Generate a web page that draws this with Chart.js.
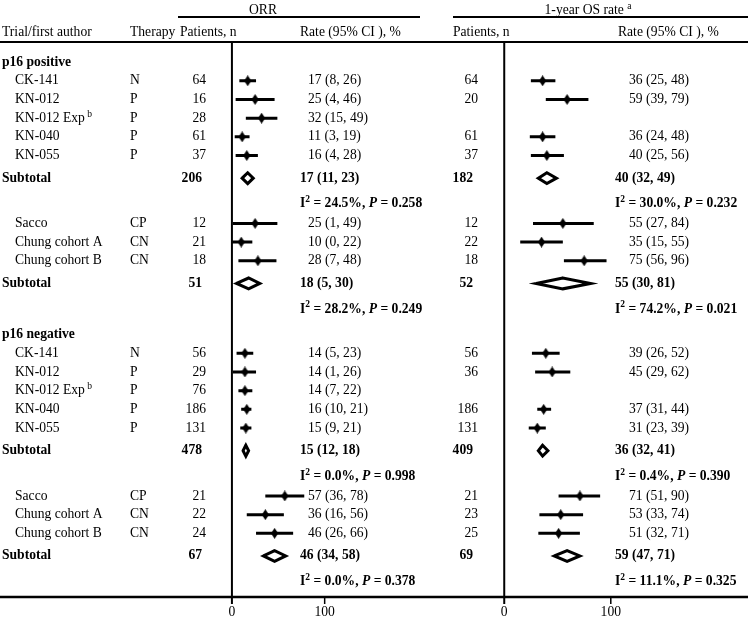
<!DOCTYPE html>
<html>
<head>
<meta charset="utf-8">
<script src="https://cdn.jsdelivr.net/npm/chart.js@4.4.1/dist/chart.umd.min.js"></script>
<style>
  body { margin: 0; background: #fff; }
  #wrap { position: relative; width: 748px; height: 620px; }
</style>
</head>
<body>
<div id="wrap"><canvas id="forest" width="748" height="620"></canvas></div>
<script>
// ---- data ----
const groupNames = ["p16 positive", "p16 negative"];
const trials = ["CK-141", "KN-012", "KN-012 Exp", "KN-040", "KN-055", "Sacco", "Chung cohort A", "Chung cohort B"];
const trialNote = ["", "", "b", "", "", "", "", ""];
const therapy = ["N", "P", "P", "P", "P", "CP", "CN", "CN"];
const subgroup = [0, 0, 0, 0, 0, 1, 1, 1];

// p16 positive
const posOrrN = [64, 16, 28, 61, 37, 12, 21, 18];
const posOrrRate = [17, 25, 32, 11, 16, 25, 10, 28];
const posOrrLo = [8, 4, 15, 3, 4, 1, 0, 7];
const posOrrHi = [26, 46, 49, 19, 28, 49, 22, 48];
const posOsN = [64, 20, null, 61, 37, 12, 22, 18];
const posOsRate = [36, 59, null, 36, 40, 55, 35, 75];
const posOsLo = [25, 39, null, 24, 25, 27, 15, 56];
const posOsHi = [48, 79, null, 48, 56, 84, 55, 96];

// p16 negative
const negOrrN = [56, 29, 76, 186, 131, 21, 22, 24];
const negOrrRate = [14, 14, 14, 16, 15, 57, 36, 46];
const negOrrLo = [5, 1, 7, 10, 9, 36, 16, 26];
const negOrrHi = [23, 26, 22, 21, 21, 78, 56, 66];
const negOsN = [56, 36, null, 186, 131, 21, 23, 25];
const negOsRate = [39, 45, null, 37, 31, 71, 53, 51];
const negOsLo = [26, 29, null, 31, 23, 51, 33, 32];
const negOsHi = [52, 62, null, 44, 39, 90, 74, 71];

// subtotals: pos mono, pos combo, neg mono, neg combo
const subOrrN = [206, 51, 478, 67];
const subOrrRate = [17, 18, 15, 46];
const subOrrLo = [11, 5, 12, 34];
const subOrrHi = [23, 30, 18, 58];
const subOrrI2 = ["24.5", "28.2", "0.0", "0.0"];
const subOrrP = ["0.258", "0.249", "0.998", "0.378"];
const subOsN = [182, 52, 409, 69];
const subOsRate = [40, 55, 36, 59];
const subOsLo = [32, 30, 32, 47];
const subOsHi = [49, 81, 41, 71];
const subOsI2 = ["30.0", "74.2", "0.4", "11.1"];
const subOsP = ["0.232", "0.021", "0.390", "0.325"];

const axisTicks = [0, 100];

// ---- layout of rows ----
const groups = [
  { orrN: posOrrN, orrRate: posOrrRate, orrLo: posOrrLo, orrHi: posOrrHi, osN: posOsN, osRate: posOsRate, osLo: posOsLo, osHi: posOsHi },
  { orrN: negOrrN, orrRate: negOrrRate, orrLo: negOrrLo, orrHi: negOrrHi, osN: negOsN, osRate: negOsRate, osLo: negOsLo, osHi: negOsHi }
];
const gaps = { "group>study": 19, "study>study": 19, "study>subtotal": 23, "subtotal>het": 26, "het>study": 20, "het>group": 26 };
const rows = [];
let curY = 58, prevType = null;
function addRow(r) {
  if (prevType) curY += gaps[prevType + ">" + r.type];
  r.y = curY;
  prevType = r.type;
  rows.push(r);
}
groups.forEach((g, gi) => {
  addRow({ type: "group", label: groupNames[gi] });
  [0, 1].forEach(sg => {
    trials.forEach((t, i) => {
      if (subgroup[i] !== sg) return;
      addRow({ type: "study", name: t, note: trialNote[i], therapy: therapy[i],
        orrN: g.orrN[i], orrRate: g.orrRate[i], orrLo: g.orrLo[i], orrHi: g.orrHi[i],
        osN: g.osN[i], osRate: g.osRate[i], osLo: g.osLo[i], osHi: g.osHi[i] });
    });
    const k = gi * 2 + sg;
    addRow({ type: "subtotal", k });
    addRow({ type: "het", k });
  });
});

// ---- datasets ----
const GAP = { x: null, y: null };
function ciData(key) {
  const out = [];
  rows.filter(r => r.type === "study" && r[key + "Rate"] != null).forEach(r => {
    out.push({ x: r[key + "Lo"], y: r.y }, { x: r[key + "Hi"], y: r.y }, GAP);
  });
  return out;
}
function ptData(key) {
  return rows.filter(r => r.type === "study" && r[key + "Rate"] != null).map(r => ({ x: r[key + "Rate"], y: r.y }));
}
const DH = 5.5;
function diamondData(rate, lo, hi) {
  const out = [];
  rows.filter(r => r.type === "subtotal").forEach(r => {
    const k = r.k;
    out.push({ x: lo[k], y: r.y }, { x: rate[k], y: r.y - DH }, { x: hi[k], y: r.y },
      { x: rate[k], y: r.y + DH }, { x: lo[k], y: r.y }, { x: rate[k], y: r.y - DH }, GAP);
  });
  return out;
}

// small vertical diamond used for point estimates
const mark = document.createElement("canvas");
mark.width = 7; mark.height = 11;
(function () {
  const c = mark.getContext("2d");
  c.fillStyle = "#000";
  c.beginPath();
  c.moveTo(3.5, 0); c.lineTo(7, 5.5); c.lineTo(3.5, 11); c.lineTo(0, 5.5); c.closePath();
  c.fill();
})();

const FONT = '"Liberation Serif", "Times New Roman", serif';
const F = {
  reg: "13.6px " + FONT,
  bold: "bold 13.6px " + FONT,
  sup: "9.5px " + FONT,
  bsup: "bold 9.5px " + FONT,
  bi: "italic bold 13.6px " + FONT
};

function runs(ctx, x, y, parts, align) {
  let total = 0;
  parts.forEach(p => { ctx.font = p.f; p.w = ctx.measureText(p.t).width; total += p.w; });
  let cx = align === "right" ? x - total : align === "center" ? x - total / 2 : x;
  parts.forEach(p => { ctx.font = p.f; ctx.fillText(p.t, cx, y + (p.dy || 0)); cx += p.w; });
}
function hline(ctx, x1, x2, y, w) {
  ctx.lineWidth = w;
  ctx.beginPath(); ctx.moveTo(x1, y); ctx.lineTo(x2, y); ctx.stroke();
}
function vline(ctx, x, y1, y2, w) {
  ctx.lineWidth = w;
  ctx.beginPath(); ctx.moveTo(x, y1); ctx.lineTo(x, y2); ctx.stroke();
}
const rateText = (r, lo, hi) => `${r} (${lo}, ${hi})`;
const hetParts = (i2, p) => [
  { t: "I", f: F.bold }, { t: "2", f: F.bsup, dy: -4 }, { t: " = " + i2 + "%, ", f: F.bold },
  { t: "P", f: F.bi }, { t: " = " + p, f: F.bold }
];

const tablePlugin = {
  id: "table",
  beforeDatasetsDraw(chart) {
    const ctx = chart.ctx;
    const xo = chart.scales.xo, xs = chart.scales.xs;
    ctx.save();
    ctx.strokeStyle = "#000";
    // header rules
    hline(ctx, 178, 420, 17, 2);
    hline(ctx, 453, 748, 17, 2);
    hline(ctx, 0, 748, 42, 2);
    hline(ctx, 0, 748, 597, 2.5);
    // zero lines and ticks
    vline(ctx, xo.getPixelForValue(0), 42, 604, 2);
    vline(ctx, xs.getPixelForValue(0), 42, 604, 2);
    axisTicks.filter(t => t !== 0).forEach(t => {
      vline(ctx, xo.getPixelForValue(t), 597, 604, 1.5);
      vline(ctx, xs.getPixelForValue(t), 597, 604, 1.5);
    });
    ctx.restore();
  },
  afterDraw(chart) {
    const ctx = chart.ctx;
    const yS = chart.scales.y, xo = chart.scales.xo, xs = chart.scales.xs;
    ctx.save();
    ctx.fillStyle = "#000";
    ctx.textBaseline = "middle";
    // headers
    runs(ctx, 263, 10, [{ t: "ORR", f: F.reg }], "center");
    runs(ctx, 588, 10, [{ t: "1-year OS rate ", f: F.reg }, { t: "a", f: F.sup, dy: -4 }], "center");
    runs(ctx, 2, 32, [{ t: "Trial/first author", f: F.reg }]);
    runs(ctx, 130, 32, [{ t: "Therapy", f: F.reg }]);
    runs(ctx, 180, 32, [{ t: "Patients, n", f: F.reg }]);
    runs(ctx, 300, 32, [{ t: "Rate (95% CI ), %", f: F.reg }]);
    runs(ctx, 453, 32, [{ t: "Patients, n", f: F.reg }]);
    runs(ctx, 618, 32, [{ t: "Rate (95% CI ), %", f: F.reg }]);
    // rows
    rows.forEach(r => {
      const py = yS.getPixelForValue(r.y);
      if (r.type === "group") {
        runs(ctx, 2, py, [{ t: r.label, f: F.bold }]);
      } else if (r.type === "study") {
        const nm = [{ t: r.name, f: F.reg }];
        if (r.note) nm.push({ t: " " + r.note, f: F.sup, dy: -4 });
        runs(ctx, 15, py, nm);
        runs(ctx, 130, py, [{ t: r.therapy, f: F.reg }]);
        runs(ctx, 206, py, [{ t: String(r.orrN), f: F.reg }], "right");
        runs(ctx, 308, py, [{ t: rateText(r.orrRate, r.orrLo, r.orrHi), f: F.reg }]);
        if (r.osN != null) {
          runs(ctx, 478, py, [{ t: String(r.osN), f: F.reg }], "right");
          runs(ctx, 629, py, [{ t: rateText(r.osRate, r.osLo, r.osHi), f: F.reg }]);
        }
      } else if (r.type === "subtotal") {
        const k = r.k;
        runs(ctx, 2, py, [{ t: "Subtotal", f: F.bold }]);
        runs(ctx, 202, py, [{ t: String(subOrrN[k]), f: F.bold }], "right");
        runs(ctx, 300, py, [{ t: rateText(subOrrRate[k], subOrrLo[k], subOrrHi[k]), f: F.bold }]);
        runs(ctx, 473, py, [{ t: String(subOsN[k]), f: F.bold }], "right");
        runs(ctx, 615, py, [{ t: rateText(subOsRate[k], subOsLo[k], subOsHi[k]), f: F.bold }]);
      } else if (r.type === "het") {
        runs(ctx, 300, py, hetParts(subOrrI2[r.k], subOrrP[r.k]));
        runs(ctx, 615, py, hetParts(subOsI2[r.k], subOsP[r.k]));
      }
    });
    // tick labels
    axisTicks.forEach(t => {
      runs(ctx, xo.getPixelForValue(t), 612, [{ t: String(t), f: F.reg }], "center");
      runs(ctx, xs.getPixelForValue(t), 612, [{ t: String(t), f: F.reg }], "center");
    });
    ctx.restore();
  }
};

const lineDs = (data, axis, w) => ({
  data, xAxisID: axis, yAxisID: "y", showLine: true, borderColor: "#000", borderWidth: w,
  pointRadius: 0, spanGaps: false, tension: 0, fill: false, borderJoinStyle: "miter"
});
const ptDs = (data, axis) => ({
  data, xAxisID: axis, yAxisID: "y", showLine: false, pointStyle: mark, pointRadius: 4
});

new Chart(document.getElementById("forest"), {
  type: "scatter",
  data: {
    datasets: [
      lineDs(ciData("orr"), "xo", 3),
      lineDs(ciData("os"), "xs", 3),
      ptDs(ptData("orr"), "xo"),
      ptDs(ptData("os"), "xs"),
      Object.assign(lineDs(diamondData(subOrrRate, subOrrLo, subOrrHi), "xo", 3), { backgroundColor: "#fff" }),
      Object.assign(lineDs(diamondData(subOsRate, subOsLo, subOsHi), "xs", 3), { backgroundColor: "#fff" })
    ]
  },
  options: {
    responsive: false,
    animation: false,
    events: [],
    layout: { padding: 0 },
    plugins: { legend: { display: false }, tooltip: { enabled: false } },
    scales: {
      xo: { type: "linear", axis: "x", display: false, min: -230 / 0.94, max: 518 / 0.94 },
      xs: { type: "linear", axis: "x", display: false, min: -506 / 1.08, max: 242 / 1.08 },
      y: { type: "linear", display: false, reverse: true, min: 0, max: 620 }
    }
  },
  plugins: [tablePlugin]
});
</script>
</body>
</html>
